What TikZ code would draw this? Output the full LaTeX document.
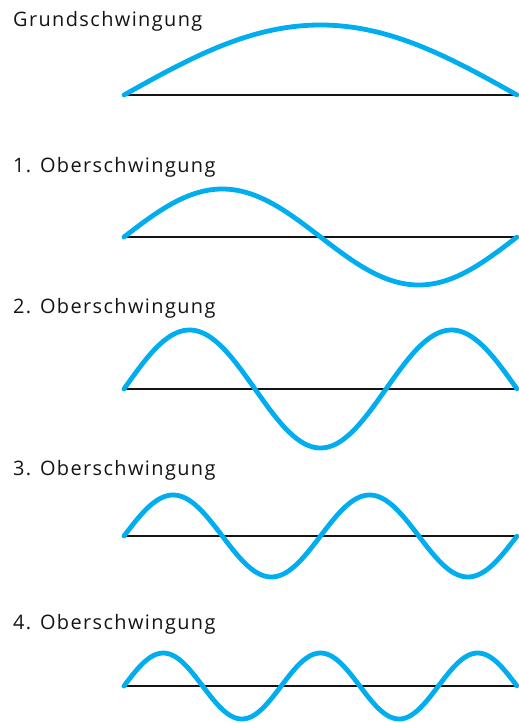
\documentclass[tikz,border=0pt]{standalone}
\usepackage{fontspec}
\setmainfont{Open Sans}
\newfontfamily\labelfont{Open Sans}[LetterSpace=7]
\usetikzlibrary{positioning}
\definecolor{wavecyan}{RGB}{0,174,239}
\definecolor{ink}{RGB}{20,20,20}
\tikzset{
  axisline/.style={draw=ink,line width=2.3bp},
  wave/.style={draw=wavecyan,line width=4.8bp,line cap=round,line join=round},
  title/.style={anchor=base west,inner sep=0pt,font=\labelfont\fontsize{20}{22}\selectfont,text=ink},
}
\begin{document}
\begin{tikzpicture}[x=1bp,y=-1bp]
  \useasboundingbox (0,0) rectangle (519,723);
  % rows: halves / axis height / amplitude / label baseline / text
  \foreach \n/\yy/\amp/\tb/\txt in {1/95/70/27/Grundschwingung,
      2/237/48/172/{1. Oberschwingung},
      3/389/59/313/{2. Oberschwingung},
      4/536/41/475/{3. Oberschwingung},
      5/686/33/629/{4. Oberschwingung}}{
    \node[title] (lab\n) at (13,\tb) {\txt};
    \coordinate (start\n) at (124,\yy);
    \coordinate (end\n) at (517,\yy);
    \draw[axisline] (start\n) -- (end\n);
    \draw[wave] plot[domain=0:1,samples=160,smooth]
      ({124+393*\x},{\yy-\amp*sin(180*\n*\x)});
  }
\end{tikzpicture}
\end{document}
